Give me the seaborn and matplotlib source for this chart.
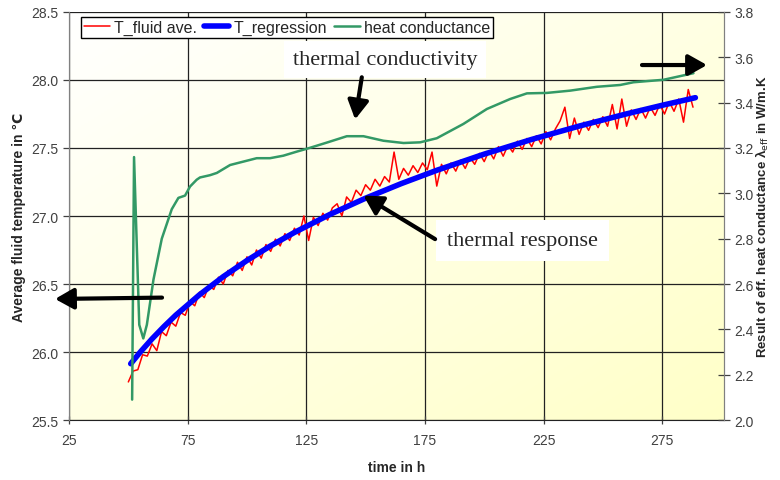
import numpy as np
import pandas as pd
import matplotlib
matplotlib.use('Agg')
import matplotlib.pyplot as plt
import seaborn as sns
from matplotlib.colors import LinearSegmentedColormap

# fluid temperature, sampled every 2 h
t_fluid = np.arange(50, 289, 2)
T_fluid = [
    25.78, 25.86, 25.87, 25.98, 25.97, 26.06, 26.01, 26.15, 26.12, 26.22,
    26.19, 26.29, 26.27, 26.37, 26.34, 26.44, 26.40, 26.49, 26.46, 26.55,
    26.50, 26.60, 26.56, 26.66, 26.60, 26.70, 26.64, 26.75, 26.69, 26.79,
    26.74, 26.83, 26.78, 26.87, 26.82, 26.91, 26.86, 27.00, 26.82, 26.99,
    26.93, 27.02, 26.97, 27.06, 27.09, 27.00, 27.14, 27.10, 27.19, 27.15,
    27.23, 27.19, 27.27, 27.22, 27.29, 27.25, 27.47, 27.27, 27.35, 27.30,
    27.37, 27.32, 27.39, 27.34, 27.47, 27.22, 27.38, 27.31, 27.39, 27.33,
    27.41, 27.35, 27.43, 27.38, 27.46, 27.40, 27.48, 27.42, 27.51, 27.44,
    27.52, 27.47, 27.55, 27.49, 27.57, 27.51, 27.59, 27.53, 27.62, 27.56,
    27.64, 27.70, 27.80, 27.57, 27.72, 27.60, 27.69, 27.63, 27.71, 27.65,
    27.73, 27.66, 27.82, 27.64, 27.86, 27.66, 27.78, 27.71, 27.79, 27.72,
    27.80, 27.74, 27.82, 27.75, 27.84, 27.77, 27.86, 27.69, 27.93, 27.80,
]

# regression curve
t_reg = [51, 55, 60, 65, 70, 80, 90, 100, 110, 120, 135, 150, 165, 180,
         200, 220, 240, 260, 275, 289]
T_reg = [25.914, 25.999, 26.097, 26.187, 26.271, 26.421, 26.554, 26.673,
         26.781, 26.879, 27.012, 27.131, 27.238, 27.336, 27.455, 27.563,
         27.661, 27.751, 27.814, 27.870]

# heat conductance (right axis)
t_lam = [51.6, 52.4, 54.6, 56.3, 57.8, 60.6, 64.1, 68.3, 71.1, 73.9, 76.0,
         78.8, 80.2, 84.4, 87.3, 92.9, 98.5, 104.1, 109.7, 115.3, 121.0,
         126.3, 134.0, 142.1, 149.1, 157.5, 166.0, 173.0, 180.0, 191.2,
         201.1, 210.9, 218.0, 226.4, 236.2, 247.5, 257.3, 262.9, 275.6, 288.2]
lam = [2.09, 3.16, 2.42, 2.36, 2.42, 2.62, 2.80, 2.93, 2.98, 2.99, 3.03,
       3.06, 3.07, 3.08, 3.09, 3.125, 3.14, 3.155, 3.155, 3.166, 3.184,
       3.20, 3.225, 3.252, 3.252, 3.232, 3.222, 3.225, 3.243, 3.306,
       3.372, 3.416, 3.441, 3.443, 3.453, 3.47, 3.478, 3.49, 3.501, 3.53]

x_ticks = [25, 75, 125, 175, 225, 275]
left_ticks = [25.5, 26.0, 26.5, 27.0, 27.5, 28.0, 28.5]
right_ticks = [2.0, 2.2, 2.4, 2.6, 2.8, 3.0, 3.2, 3.4, 3.6, 3.8]

sns.set_style('white')
plt.rcParams['font.family'] = ['Liberation Sans', 'DejaVu Sans']

fig = plt.figure(figsize=(7.8, 4.81), dpi=100)
ax = fig.add_axes([0.0885, 0.1247, 0.8395, 0.8483])
ax2 = ax.twinx()

# pale yellow gradient in the plot area
cmap = LinearSegmentedColormap.from_list('bg', ['#ffffff', '#ffffc8'])
gx, gy = np.meshgrid(np.linspace(0, 1, 200), np.linspace(0, 1, 200))
ax.imshow((gx + gy) / 2, extent=[0, 1, 0, 1], transform=ax.transAxes,
          cmap=cmap, aspect='auto', zorder=-1, origin='upper')

df_fluid = pd.DataFrame({'t': t_fluid, 'T': T_fluid})
df_reg = pd.DataFrame({'t': t_reg, 'T': T_reg})
df_lam = pd.DataFrame({'t': t_lam, 'lam': lam})

sns.lineplot(data=df_fluid, x='t', y='T', ax=ax, color='#ff0000', lw=1.1,
             label='T_fluid ave.', legend=False, zorder=3)
sns.lineplot(data=df_reg, x='t', y='T', ax=ax, color='#0000ff', lw=4.0,
             label='T_regression', legend=False, zorder=4)
sns.lineplot(data=df_lam, x='t', y='lam', ax=ax2, color='#339966', lw=1.8,
             label='heat conductance', legend=False, sort=False)

ax.set_xlim(25, 301)
ax.set_ylim(25.5, 28.5)
ax2.set_ylim(2.0, 3.8)
ax.set_xticks(x_ticks)
ax.set_yticks(left_ticks)
ax.set_yticklabels([f'{v:.1f}' for v in left_ticks])
ax2.set_yticks(right_ticks)
ax2.set_yticklabels([f'{v:.1f}' for v in right_ticks])

ax.grid(True, color='#222222', lw=0.9)
ax.set_axisbelow(True)
for sp in ['left', 'right', 'top']:
    ax.spines[sp].set_color('#808080')
    ax2.spines[sp].set_color('#808080')
ax.spines['top'].set_visible(False)
ax2.spines['top'].set_visible(False)
ax.spines['bottom'].set_color('#222222')
ax2.spines['bottom'].set_visible(False)

ax.tick_params(axis='y', direction='out', length=4, width=0.9,
               colors='#404040', labelsize=10, left=True)
ax.tick_params(axis='x', direction='inout', length=6, width=0.9,
               colors='#404040', labelsize=10, bottom=True, pad=6)
ax2.tick_params(axis='y', direction='inout', length=8, width=0.9,
                colors='#404040', labelsize=10, right=True)

ax.set_xlabel('time in h', fontsize=10, fontweight='bold', labelpad=10)
ax.set_ylabel('Average fluid temperature in ℃', fontsize=10,
              fontweight='bold', labelpad=4)
ax2.set_ylabel(r'Result of eff. heat conductance λ$_{\mathrm{eff}}$ in W/m.K',
               fontsize=9.5, fontweight='bold', labelpad=0)

# legend
h1, l1 = ax.get_legend_handles_labels()
h2, l2 = ax2.get_legend_handles_labels()
leg = ax2.legend(h1 + h2, l1 + l2, loc='upper left', ncol=3,
                 bbox_to_anchor=(0.018, 0.988), borderaxespad=0,
                 fontsize=11.5, handlelength=1.6, handletextpad=0.25,
                 columnspacing=0.45, fancybox=False, framealpha=1,
                 edgecolor='black', borderpad=0.2)
leg.get_frame().set_linewidth(1.0)
leg.set_zorder(10)

# annotations
arrow = dict(arrowstyle='-|>,head_length=0.8,head_width=0.45', lw=3,
             color='black', mutation_scale=14, shrinkA=0, shrinkB=0)
box = dict(boxstyle='square,pad=0.4', fc='white', ec='none')
serif = ['Liberation Serif', 'DejaVu Serif']

ax2.text(158.2, 28.15, 'thermal conductivity', transform=ax.transData,
         ha='center', va='center', fontsize=16, family=serif, bbox=box,
         zorder=8)
ax2.text(216.2, 26.82, 'thermal response', transform=ax.transData,
         ha='center', va='center', fontsize=16, family=serif,
         bbox=dict(boxstyle='square,pad=0.5', fc='white', ec='none'),
         zorder=8)
ax2.annotate('', xy=(145.6, 27.71), xytext=(148.4, 28.02),
             xycoords=ax.transData, textcoords=ax.transData,
             arrowprops=arrow, annotation_clip=False, zorder=9)
ax2.annotate('', xy=(149.1, 27.15), xytext=(179.3, 26.83),
             xycoords=ax.transData, textcoords=ax.transData,
             arrowprops=arrow, annotation_clip=False, zorder=9)
ax2.annotate('', xy=(19.1, 26.39), xytext=(64.2, 26.40),
             xycoords=ax.transData, textcoords=ax.transData,
             arrowprops=arrow, annotation_clip=False, zorder=9)
ax2.annotate('', xy=(293.9, 28.11), xytext=(266.5, 28.11),
             xycoords=ax.transData, textcoords=ax.transData,
             arrowprops=arrow, annotation_clip=False, zorder=9)

fig.savefig('out.png', dpi=100)
